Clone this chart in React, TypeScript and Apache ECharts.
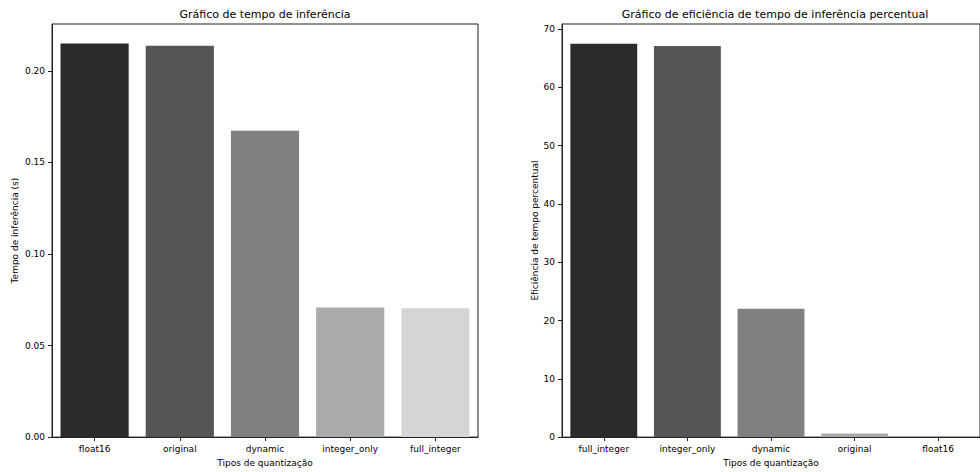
import React, { useEffect, useRef } from "react";
import * as echarts from "echarts";

const leftCategories = ["float16", "original", "dynamic", "integer_only", "full_integer"];
const leftValues = [0.2149, 0.2137, 0.1673, 0.0708, 0.0703];
const leftTicks = [0, 0.05, 0.1, 0.15, 0.2];
const rightCategories = ["full_integer", "integer_only", "dynamic", "original", "float16"];
const rightValues = [67.5, 67.1, 22.0, 0.6, 0.0];
const rightTicks = [0, 10, 20, 30, 40, 50, 60, 70];
const barColors = ["#2b2b2b", "#555555", "#808080", "#aaaaaa", "#d5d5d5"];

const FONT = "DejaVu Sans";

export default function App() {
  const ref = useRef<HTMLDivElement>(null);
  useEffect(() => {
    if (!ref.current) return;
    const chart = echarts.init(ref.current, undefined, { renderer: "svg" });
    const axisLineStyle = { color: "#222", width: 1 };
    const commonX = (cats: string[], gridIndex: number) => ({
      type: "category" as const,
      gridIndex,
      data: cats,
      name: "Tipos de quantização",
      nameLocation: "middle" as const,
      nameGap: 20,
      nameTextStyle: { fontFamily: FONT, fontSize: 9, color: "#000" },
      axisLine: { show: true, lineStyle: axisLineStyle },
      axisTick: { show: true, alignWithLabel: true, length: 4, lineStyle: axisLineStyle },
      axisLabel: { fontFamily: FONT, fontSize: 9, color: "#000", margin: 7, interval: 0 },
      splitLine: { show: false },
    });
    const mkBars = (vals: number[], xi: number) => ({
      type: "bar" as const,
      xAxisIndex: xi,
      yAxisIndex: xi,
      barCategoryGap: "20%",
      data: vals.map((v, i) => ({ value: v, itemStyle: { color: barColors[i] } })),
    });
    const titleStyle = { fontFamily: FONT, fontSize: 11, fontWeight: "normal" as const, color: "#000" };
    chart.setOption({
      animation: false,
      title: [
        { text: "Gráfico de tempo de inferência", left: 265, textAlign: "center", top: 9, padding: 0, textStyle: titleStyle },
        { text: "Gráfico de eficiência de tempo de inferência percentual", left: 775, textAlign: "center", top: 9, padding: 0, textStyle: titleStyle },
      ],
      grid: [
        { left: 52, right: 502, top: 24, bottom: 34, show: true, borderColor: "#222", borderWidth: 1, backgroundColor: "transparent" },
        { left: 562, right: -8, top: 24, bottom: 34, show: true, borderColor: "#222", borderWidth: 1, backgroundColor: "transparent" },
      ],
      xAxis: [commonX(leftCategories, 0), commonX(rightCategories, 1)],
      yAxis: [
        {
          type: "value",
          gridIndex: 0,
          min: 0,
          max: 0.2256,
          interval: 0.05,
          name: "Tempo de inferência (s)",
          nameLocation: "middle",
          nameGap: 33,
          nameTextStyle: { fontFamily: FONT, fontSize: 9, color: "#000" },
          axisLine: { show: true, lineStyle: axisLineStyle },
          axisTick: { show: true, length: 4, lineStyle: axisLineStyle, customValues: leftTicks },
          axisLabel: {
            fontFamily: FONT,
            fontSize: 9,
            color: "#000",
            margin: 7,
            customValues: leftTicks,
            formatter: (v: number) => v.toFixed(2),
          },
          splitLine: { show: false },
        },
        {
          type: "value",
          gridIndex: 1,
          min: 0,
          max: 70.87,
          interval: 10,
          name: "Eficiência de tempo percentual",
          nameLocation: "middle",
          nameGap: 20,
          nameTextStyle: { fontFamily: FONT, fontSize: 9, color: "#000" },
          axisLine: { show: true, lineStyle: axisLineStyle },
          axisTick: { show: true, length: 4, lineStyle: axisLineStyle, customValues: rightTicks },
          axisLabel: {
            fontFamily: FONT,
            fontSize: 9,
            color: "#000",
            margin: 7,
            customValues: rightTicks,
            formatter: (v: number) => String(Math.round(v)),
          },
          splitLine: { show: false },
        },
      ],
      series: [mkBars(leftValues, 0), mkBars(rightValues, 1)],
    });
    return () => chart.dispose();
  }, []);
  return <div ref={ref} style={{ width: 980, height: 472, position: "absolute", left: 0, top: 0 }} />;
}
